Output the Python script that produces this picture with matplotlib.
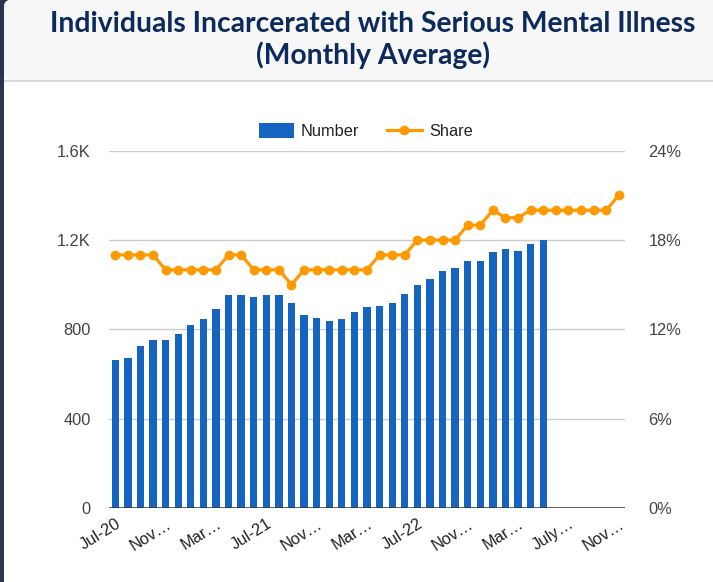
import matplotlib
matplotlib.use("Agg")
import matplotlib.pyplot as plt
import numpy as np
from matplotlib.patches import FancyBboxPatch, Rectangle, Patch
from matplotlib.lines import Line2D
from matplotlib.transforms import IdentityTransform

# ---- data ----
months = ["Jul-20", "Aug-20", "Sep-20", "Oct-20", "Nov-20", "Dec-20", "Jan-21", "Feb-21",
          "Mar-21", "Apr-21", "May-21", "Jun-21", "Jul-21", "Aug-21", "Sep-21", "Oct-21",
          "Nov-21", "Dec-21", "Jan-22", "Feb-22", "Mar-22", "Apr-22", "May-22", "Jun-22",
          "Jul-22", "Aug-22", "Sep-22", "Oct-22", "Nov-22", "Dec-22", "Jan-23", "Feb-23",
          "Mar-23", "Apr-23", "May-23", "Jun-23", "July-23", "Aug-23", "Sep-23", "Oct-23",
          "Nov-23"]
number = [663, 671, 724, 751, 751, 778, 818, 845, 891, 952, 952, 945, 952, 952, 918, 864,
          851, 838, 845, 878, 899, 905, 918, 958, 998, 1025, 1060, 1073, 1106, 1106, 1146,
          1159, 1153, 1180, 1200]
share = [17, 17, 17, 17, 16, 16, 16, 16, 16, 17, 17, 16, 16, 16, 15, 16, 16, 16, 16, 16, 16,
         17, 17, 17, 18, 18, 18, 18, 19, 19, 20, 19.5, 19.5, 20, 20, 20, 20, 20, 20, 20, 21]
tick_idx = [0, 4, 8, 12, 16, 20, 24, 28, 32, 36, 40]
tick_labels = ["Jul-20", "Nov\u2026", "Mar\u2026", "Jul-21", "Nov\u2026", "Mar\u2026",
               "Jul-22", "Nov\u2026", "Mar\u2026", "July\u2026", "Nov\u2026"]
left_ticks = [0, 400, 800, 1200, 1600]
left_labels = ["0", "400", "800", "1.2K", "1.6K"]
right_ticks = [0, 6, 12, 18, 24]
right_labels = ["0%", "6%", "12%", "18%", "24%"]

BLUE = "#1565c0"; ORANGE = "#ff9900"; NAVY = "#0c2a5c"; FRAME = "#2b3550"
W, H = 713, 582
fig = plt.figure(figsize=(W/100, H/100), dpi=100, facecolor=FRAME)

# card with rounded top-left corner, grey title band
card = FancyBboxPatch((4, -20), W + 40, H + 20, boxstyle="round,pad=0,rounding_size=7",
                      transform=IdentityTransform(), fc="white", ec="none", zorder=-3)
fig.patches.append(card)
band = FancyBboxPatch((4, H - 80), W + 40, 80, boxstyle="round,pad=0,rounding_size=7",
                      transform=IdentityTransform(), fc="#f7f7f7", ec="none", zorder=-2)
fig.patches.append(band)
fig.patches.append(Rectangle((4, H - 81.5), W, 1.5, transform=IdentityTransform(),
                             fc="#d9d9d9", ec="none", zorder=-1))

t1 = fig.text(373/W, 1 - 24/H, "Individuals Incarcerated with Serious Mental Illness",
              ha="center", va="center", color=NAVY, family="Lato", weight="bold", fontsize=17)
fig.canvas.draw()
r = fig.canvas.get_renderer()
fs = 17 * 646 / t1.get_window_extent(r).width
t1.set_fontsize(fs)
fig.text(373/W, 1 - 55/H, "(Monthly Average)", ha="center", va="center", color=NAVY,
         family="Lato", weight="bold", fontsize=fs)

FONT = "Liberation Sans"
ax = fig.add_axes([109/W, 1 - 508/H, (625-109)/W, (508-150.7)/H])
ax.set_facecolor("none")
x = np.arange(len(months))
ax.bar(x[:len(number)], number, width=0.58, color=BLUE, zorder=2)
ax.set_xlim(-0.5, len(months) - 0.5)
ax.set_ylim(0, 1600)
ax.set_yticks(left_ticks)
ax.set_yticklabels(left_labels, family=FONT, fontsize=11.8, color="#444444")
ax.grid(axis="y", color="#cccccc", lw=1, zorder=0)
ax.axhline(0, color="#333333", lw=1.8, zorder=4)
for s in ax.spines.values():
    s.set_visible(False)
ax.tick_params(axis="both", length=0)
ax.tick_params(axis="y", pad=13)
ax.set_xticks(tick_idx)
ax.set_xticklabels(tick_labels, family=FONT, fontsize=11.8, color="#222222",
                   rotation=32, ha="right", va="top", rotation_mode="anchor")
ax.tick_params(axis="x", pad=6)

ax2 = ax.twinx()
ax2.plot(x, share, color=ORANGE, lw=2.3, marker="o", ms=6, zorder=3)
ax2.set_ylim(0, 24)
ax2.set_yticks(right_ticks)
ax2.set_yticklabels(right_labels, family=FONT, fontsize=11.8, color="#444444")
ax2.tick_params(axis="y", length=0, pad=17)
for s in ax2.spines.values():
    s.set_visible(False)

handles = [Patch(fc=BLUE, ec="none"),
           Line2D([], [], color=ORANGE, lw=2.3, marker="o", ms=6)]
fig.legend(handles, ["Number", "Share"], loc="center", bbox_to_anchor=(366/W, 1 - 131/H),
           ncol=2, frameon=False, prop={"family": FONT, "size": 11.8},
           handlelength=2.1, handleheight=1.0, handletextpad=0.45, columnspacing=1.7,
           labelcolor="#222222")

fig.savefig("out.png", dpi=100, facecolor=FRAME)
